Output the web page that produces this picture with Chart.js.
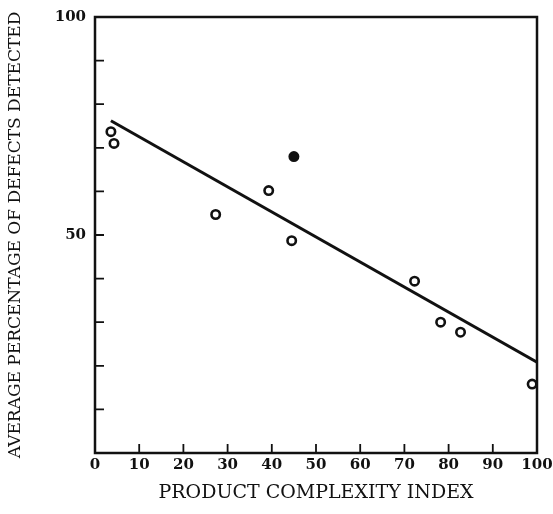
<!DOCTYPE html>
<html>
<head>
<meta charset="utf-8">
<script src="https://cdn.jsdelivr.net/npm/chart.js@4"></script>
<style>
  html, body { margin: 0; padding: 0; background: #fff; }
  #wrap { width: 553px; height: 514px; }
</style>
</head>
<body>
<div id="wrap"><canvas id="defectsChart"></canvas></div>
<script>
// observed points (complexity index, % defects detected)
const complexity = [3.6, 4.3, 27.3, 39.3, 45, 44.5, 72.3, 78.2, 82.7, 98.9];
const detected   = [73.7, 71, 54.7, 60.2, 68, 48.7, 39.4, 30, 27.7, 15.8];
const filled     = [false, false, false, false, true, false, false, false, false, false];

// fitted trend line end points
const fitX = [3.6, 100];
const fitY = [76.2, 20.8];

const xTicks = [0, 10, 20, 30, 40, 50, 60, 70, 80, 90, 100];
const yLabeled = [50, 100];

const serif = '"DejaVu Serif", "Liberation Serif", serif';

// box around the plot and inward tick marks
const frame = {
    id: 'frame',
    afterDraw(chart) {
        const { ctx, chartArea: a, scales } = chart;
        ctx.save();
        ctx.strokeStyle = '#111';
        ctx.lineWidth = 2.5;
        ctx.strokeRect(a.left, a.top, a.right - a.left, a.bottom - a.top);
        ctx.lineWidth = 1.8;
        ctx.beginPath();
        scales.x.ticks.forEach(t => {
            const px = scales.x.getPixelForValue(t.value);
            if (t.value === 0 || t.value === 100) return;
            ctx.moveTo(px, a.bottom);
            ctx.lineTo(px, a.bottom - 9);
        });
        scales.y.ticks.forEach(t => {
            const py = scales.y.getPixelForValue(t.value);
            if (t.value === 0 || t.value === 100) return;
            ctx.moveTo(a.left, py);
            ctx.lineTo(a.left + 9, py);
        });
        ctx.stroke();
        ctx.restore();
    }
};

const ctx = document.getElementById('defectsChart').getContext('2d');
new Chart(ctx, {
    type: 'scatter',
    data: {
        datasets: [{
            label: 'Observed',
            data: complexity.map((x, i) => ({ x: x, y: detected[i] })),
            pointRadius: 4.2,
            pointBorderWidth: 2.6,
            pointBorderColor: '#111',
            pointBackgroundColor: filled.map(f => f ? '#111' : '#fff')
        }, {
            label: 'Trend',
            type: 'line',
            data: fitX.map((x, i) => ({ x: x, y: fitY[i] })),
            borderColor: '#111',
            borderWidth: 3,
            pointRadius: 0,
            fill: false
        }]
    },
    options: {
        responsive: true,
        maintainAspectRatio: false,
        animation: false,
        layout: { padding: { top: 17, right: 16, left: 0, bottom: 0 } },
        plugins: {
            legend: { display: false },
            tooltip: { enabled: false }
        },
        scales: {
            x: {
                type: 'linear',
                min: 0,
                max: 100,
                afterBuildTicks: s => { s.ticks = xTicks.map(v => ({ value: v })); },
                afterFit: s => { s.height = 61; s.paddingLeft = 0; s.paddingRight = 0; },
                grid: { display: false, drawTicks: false, tickLength: 0 },
                border: { display: false },
                ticks: {
                    color: '#111',
                    padding: 3,
                    maxRotation: 0,
                    font: { family: serif, size: 15, weight: 'bold' }
                },
                title: {
                    display: true,
                    text: 'PRODUCT COMPLEXITY INDEX',
                    color: '#111',
                    padding: { top: 4, bottom: 10 },
                    font: { family: serif, size: 19 }
                }
            },
            y: {
                type: 'linear',
                min: 0,
                max: 100,
                afterFit: s => { s.width = 95; s.paddingTop = 0; s.paddingBottom = 0; },
                grid: { display: false, drawTicks: false, tickLength: 0 },
                border: { display: false },
                ticks: {
                    stepSize: 10,
                    color: '#111',
                    padding: 9,
                    autoSkip: false,
                    font: { family: serif, size: 15, weight: 'bold' },
                    callback: v => yLabeled.includes(v) ? v : ''
                },
                title: {
                    display: true,
                    text: 'AVERAGE PERCENTAGE OF DEFECTS DETECTED',
                    color: '#111',
                    padding: { top: 5, bottom: 0 },
                    font: { family: serif, size: 17 }
                }
            }
        }
    },
    plugins: [frame]
});
</script>
</body>
</html>
